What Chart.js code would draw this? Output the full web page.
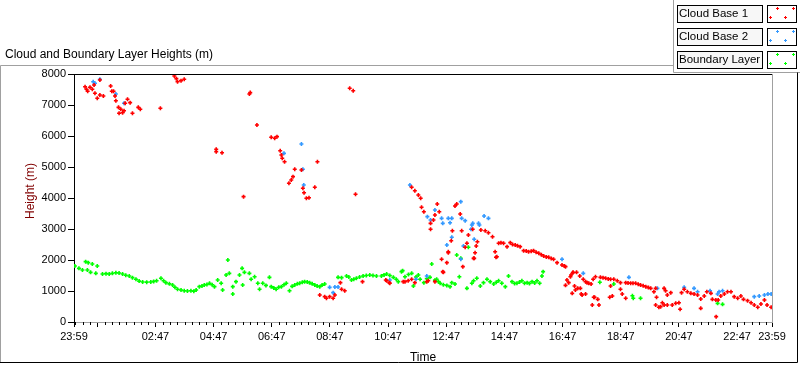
<!DOCTYPE html>
<html>
<head>
<meta charset="utf-8">
<title>Cloud and Boundary Layer Heights</title>
<script src="https://cdn.jsdelivr.net/npm/chart.js@4.4.1/dist/chart.umd.min.js"></script>
<style>
  html, body { margin: 0; padding: 0; background: #fff; }
  #wrap { position: relative; width: 800px; height: 365px; }
</style>
</head>
<body>
<div id="wrap"><canvas id="heights" width="800" height="365"></canvas></div>
<script>
// time axis: hours since 23:59 of the previous day
const tickHours = [0, 0.8, 2.8, 4.8, 6.8, 8.8, 10.8, 12.8, 14.8, 16.8, 18.8, 20.8, 22.8, 24];
const tickLabels = ['23:59', '', '02:47', '04:47', '06:47', '08:47', '10:47', '12:47', '14:47', '16:47', '18:47', '20:47', '22:47', '23:59'];
const heightTicks = [0, 1000, 2000, 3000, 4000, 5000, 6000, 7000, 8000];

const seriesNames = ['Cloud Base 1', 'Cloud Base 2', 'Boundary Layer'];
const seriesColors = ['#ff0000', '#3399ff', '#00ff00'];

const cb1Hours = [0.38, 0.43, 0.47, 0.55, 0.63, 0.69, 0.72, 0.80, 0.89, 0.89, 1.01, 1.26, 1.30, 1.36, 1.41, 1.44, 1.53, 1.55, 1.61, 1.67,
  1.72, 1.76, 1.84, 1.93, 2.01, 2.21, 2.28, 2.97, 3.45, 3.52, 3.56, 3.68, 3.79, 4.89, 4.89, 5.09, 5.83, 6.03, 6.06, 6.29,
  6.78, 6.90, 6.98, 7.09, 7.13, 7.16, 7.24, 7.39, 7.47, 7.53, 7.59, 7.82, 7.87, 7.91, 7.99, 8.08, 8.28, 8.37, 8.45, 8.62,
  8.68, 8.79, 8.91, 8.97, 9.16, 9.20, 9.31, 9.48, 9.60, 9.68, 9.92, 10.72, 10.75, 10.84, 10.86, 11.32, 11.38, 11.49, 11.61, 11.61,
  11.72, 11.72, 11.84, 11.92, 11.95, 12.03, 12.13, 12.18, 12.26, 12.26, 12.36, 12.41, 12.41, 12.49, 12.56, 12.64, 12.68, 12.70, 12.82, 12.87,
  12.87, 12.97, 13.01, 13.10, 13.16, 13.28, 13.33, 13.37, 13.45, 13.51, 13.56, 13.71, 13.74, 13.76, 13.79, 13.83, 13.87, 13.99, 14.14, 14.25,
  14.39, 14.48, 14.51, 14.54, 14.60, 14.68, 14.77, 14.89, 15.00, 15.08, 15.17, 15.25, 15.34, 15.46, 15.55, 15.63, 15.72, 15.80, 15.89, 15.98,
  16.07, 16.15, 16.24, 16.32, 16.41, 16.49, 16.61, 16.78, 16.86, 16.90, 16.90, 16.95, 17.01, 17.07, 17.09, 17.13, 17.15, 17.16, 17.21, 17.24,
  17.28, 17.32, 17.39, 17.41, 17.44, 17.47, 17.51, 17.59, 17.59, 17.64, 17.70, 17.78, 17.82, 17.85, 17.87, 17.90, 17.93, 18.01, 18.05, 18.10,
  18.19, 18.28, 18.37, 18.45, 18.45, 18.42, 18.51, 18.56, 18.68, 18.79, 18.79, 18.85, 18.97, 18.97, 19.05, 19.14, 19.22, 19.31, 19.40, 19.48,
  19.57, 19.66, 19.75, 19.83, 19.94, 20.00, 20.00, 20.03, 20.11, 20.17, 20.23, 20.29, 20.29, 20.34, 20.40, 20.40, 20.52, 20.57, 20.69, 20.80,
  20.84, 20.89, 20.98, 21.09, 21.21, 21.32, 21.44, 21.55, 21.55, 21.67, 21.76, 21.90, 21.95, 22.07, 22.08, 22.15, 22.24, 22.36, 22.47, 22.59,
  22.70, 22.82, 22.93, 23.02, 23.16, 23.28, 23.39, 23.51, 23.62, 23.74, 23.83, 23.97];
const cb1Heights = [7591, 7506, 7442, 7571, 7506, 7645, 7377, 7216, 7323, 7806, 7290, 7613, 7442, 7442, 7290, 7139, 6925, 6732, 6861, 6752,
  6816, 7055, 7184, 7076, 6732, 6925, 6861, 6894, 7935, 7850, 7752, 7785, 7829, 5570, 5494, 5462, 4043, 7355, 7400, 6355,
  5958, 5926, 5979, 5526, 5387, 5280, 5171, 4474, 4581, 4688, 4926, 4903, 4313, 4171, 3990, 4010, 4345, 5171, 871, 817,
  764, 817, 764, 871, 1269, 1055, 1010, 7539, 7462, 4119, 1301, 1355, 1333, 1269, 1248, 1301, 1301, 1333, 4345, 1377,
  4236, 1269, 4097, 3990, 3700, 3558, 1301, 1333, 3183, 2990, 3290, 3452, 1301, 3806, 3558, 2023, 1624, 1602, 1914, 2268,
  2235, 2623, 2945, 3742, 3806, 3484, 2945, 1785, 2410, 2539, 2806, 2990, 2054, 2054, 2235, 2452, 2590, 2968, 2945, 2881,
  2752, 2268, 2087, 2107, 2539, 2560, 2539, 2430, 2559, 2500, 2484, 2460, 2430, 2301, 2290, 2268, 2280, 2301, 2250, 2216,
  2170, 2129, 2100, 2087, 2050, 2023, 1914, 1839, 1806, 1785, 1183, 1355, 1269, 1462, 1516, 925, 1591, 1602, 1161, 1032,
  1602, 1086, 1484, 1086, 903, 871, 1377, 1301, 903, 1269, 1248, 1226, 548, 1377, 796, 796, 1462, 731, 548, 1441,
  1430, 1409, 1390, 1377, 1161, 796, 839, 1377, 1333, 1269, 1055, 903, 1269, 764, 1260, 1248, 1250, 1248, 1220, 1194,
  1170, 1140, 1110, 1086, 978, 1086, 548, 796, 474, 495, 623, 1086, 548, 1010, 871, 548, 946, 548, 603, 623,
  409, 946, 1055, 978, 925, 903, 871, 742, 441, 839, 978, 925, 731, 710, 172, 710, 839, 903, 978, 978,
  817, 764, 839, 731, 688, 623, 548, 474, 581, 710, 548, 474];

const cb2Hours = [0.66, 0.72, 0.89, 1.44, 1.72, 7.22, 7.82, 7.87, 7.90, 8.79, 8.91, 8.97, 9.08, 10.86, 11.55, 11.76, 12.13, 12.15, 12.26, 12.41,
  12.64, 12.68, 12.82, 12.87, 12.93, 12.99, 12.99, 13.30, 13.30, 13.33, 13.39, 13.45, 13.65, 13.68, 13.71, 13.76, 13.91, 13.94, 14.10, 14.25,
  16.78, 17.51, 19.08, 20.06, 20.98, 21.32, 21.44, 21.87, 22.13, 22.18, 22.30, 23.39, 23.56, 23.74, 23.86, 23.97];
const cb2Heights = [7752, 7700, 7829, 7355, 7055, 5441, 5742, 4926, 4419, 1118, 946, 1129, 1129, 1355, 4419, 1377, 1484, 3398, 3290, 3613,
  3344, 3183, 2484, 3344, 3204, 3344, 2732, 3882, 2023, 3344, 2452, 3269, 2990, 3129, 3183, 2667, 3183, 3129, 3419, 3344,
  2023, 1570, 1441, 1086, 1118, 1086, 978, 1010, 903, 978, 1010, 817, 839, 871, 903, 903];

const blHours = [0.03, 0.17, 0.29, 0.40, 0.46, 0.49, 0.57, 0.63, 0.75, 0.80, 0.98, 1.10, 1.21, 1.32, 1.44, 1.55, 1.67, 1.78, 1.90, 2.01,
  2.13, 2.24, 2.36, 2.50, 2.64, 2.74, 2.84, 2.99, 3.08, 3.16, 3.28, 3.39, 3.47, 3.56, 3.68, 3.79, 3.90, 4.02, 4.12, 4.20,
  4.31, 4.40, 4.48, 4.57, 4.66, 4.75, 4.83, 4.94, 5.06, 5.11, 5.23, 5.29, 5.34, 5.46, 5.46, 5.57, 5.69, 5.78, 5.80, 5.86,
  6.03, 6.09, 6.21, 6.32, 6.38, 6.49, 6.60, 6.72, 6.78, 6.87, 6.95, 7.04, 7.13, 7.22, 7.30, 7.41, 7.50, 7.59, 7.68, 7.76,
  7.85, 7.93, 8.02, 8.10, 8.19, 8.28, 8.36, 8.45, 8.53, 8.62, 9.08, 9.20, 9.37, 9.45, 9.54, 9.62, 9.71, 9.82, 9.94, 10.05,
  10.17, 10.28, 10.40, 10.57, 10.66, 10.75, 10.86, 10.98, 11.08, 11.15, 11.26, 11.30, 11.38, 11.50, 11.61, 11.67, 11.76, 11.84, 11.90, 12.03,
  12.13, 12.24, 12.30, 12.41, 12.47, 12.53, 12.59, 12.70, 12.82, 12.93, 12.99, 13.10, 13.16, 13.25, 13.30, 13.51, 13.56, 13.68, 13.74, 13.85,
  13.97, 14.08, 14.20, 14.31, 14.43, 14.52, 14.60, 14.71, 14.83, 14.94, 15.06, 15.15, 15.23, 15.32, 15.40, 15.49, 15.58, 15.66, 15.75, 15.84,
  15.92, 16.01, 16.09, 16.13, 18.08, 18.56, 19.20, 19.23, 19.48, 22.13, 22.30];
const blHeights = [1806, 1730, 1677, 1946, 1677, 1914, 1602, 1871, 1570, 1806, 1548, 1560, 1548, 1570, 1591, 1580, 1548, 1510, 1484, 1430,
  1377, 1320, 1290, 1285, 1290, 1310, 1333, 1409, 1330, 1269, 1230, 1194, 1120, 1055, 1030, 1010, 1000, 1010, 990, 1032,
  1140, 1160, 1194, 1210, 1248, 1200, 1140, 1355, 1248, 1032, 1516, 2000, 1570, 1140, 903, 1301, 1516, 1731, 1194, 1602,
  1570, 1377, 1462, 1248, 1055, 1248, 1180, 1441, 1140, 1100, 1055, 1120, 1140, 1200, 1248, 1010, 1150, 1194, 1230, 1248,
  1280, 1301, 1290, 1269, 1230, 1194, 1160, 1140, 1190, 1226, 1441, 1430, 1484, 1450, 1355, 1380, 1409, 1450, 1484, 1500,
  1516, 1500, 1484, 1484, 1520, 1548, 1500, 1441, 1380, 1301, 1624, 1656, 1462, 1530, 1570, 1161, 1450, 1516, 1377, 1269,
  1400, 1441, 1871, 1350, 1377, 1301, 1248, 1200, 1180, 1140, 1269, 1226, 2161, 1462, 2054, 1086, 2409, 1248, 1333, 1409,
  1161, 1269, 1377, 1301, 1226, 1280, 1333, 1248, 1140, 1484, 1301, 1240, 1248, 1290, 1333, 1250, 1269, 1240, 1301, 1260,
  1333, 1248, 1484, 1624, 1280, 1226, 849, 764, 764, 602, 570];

const FONT = "'Liberation Sans', Arial, sans-serif";
Chart.defaults.font.family = FONT;

const toPoints = (hours, heights) => hours.map((h, i) => ({ x: h, y: heights[i] }));

function pointSet(idx, hours, heights) {
  return {
    label: seriesNames[idx],
    data: toPoints(hours, heights),
    showLine: false,
    pointStyle: 'cross',
    pointRadius: 2,
    pointBorderWidth: 1.6,
    borderColor: seriesColors[idx],
    backgroundColor: seriesColors[idx]
  };
}

// LabVIEW style frame, title, legend and minor ticks
const decorations = {
  id: 'decorations',
  afterDraw(chart) {
    const { ctx, chartArea: a } = chart;
    const xs = chart.scales.x;
    ctx.save();

    // minor time ticks every 15 min
    ctx.strokeStyle = '#000';
    ctx.lineWidth = 1;
    ctx.beginPath();
    for (let k = 0; k < 96; k++) {
      const v = 0.05 + k * 0.25;
      if (tickHours.some(t => Math.abs(t - v) < 0.01)) continue;
      const px = Math.round(xs.getPixelForValue(v)) + 0.5;
      ctx.moveTo(px, a.bottom);
      ctx.lineTo(px, a.bottom + 3);
    }
    ctx.stroke();

    // plot frame: dark top, grey right
    ctx.beginPath();
    ctx.strokeStyle = '#000';
    ctx.moveTo(a.left, a.top + 0.5);
    ctx.lineTo(a.right, a.top + 0.5);
    ctx.stroke();
    ctx.beginPath();
    ctx.strokeStyle = '#a0a0a0';
    ctx.moveTo(a.right + 0.5, a.top);
    ctx.lineTo(a.right + 0.5, a.bottom);
    ctx.stroke();

    // outer panel
    ctx.strokeStyle = '#a0a0a0';
    ctx.beginPath();
    ctx.moveTo(0.5, 363);
    ctx.lineTo(0.5, 65.5);
    ctx.lineTo(673.5, 65.5);
    ctx.moveTo(673.5, 0);
    ctx.lineTo(673.5, 72.5);
    ctx.lineTo(800, 72.5);
    ctx.stroke();
    ctx.strokeStyle = '#000';
    ctx.beginPath();
    ctx.moveTo(0, 362.5);
    ctx.lineTo(797.5, 362.5);
    ctx.lineTo(797.5, 72.5);
    ctx.stroke();

    // graph title
    ctx.fillStyle = '#000';
    ctx.font = '12px ' + FONT;
    ctx.textBaseline = 'middle';
    ctx.textAlign = 'left';
    ctx.fillText('Cloud and Boundary Layer Heights (m)', 5, 55);

    // y axis title
    ctx.save();
    ctx.translate(31, 191);
    ctx.rotate(-Math.PI / 2);
    ctx.textAlign = 'center';
    ctx.fillStyle = '#800000';
    ctx.fillText('Height (m)', 0, 0);
    ctx.restore();

    // legend
    const marks = [[10, 3], [26, 3], [3, 12], [18, 12]];
    ctx.font = '11.5px ' + FONT;
    chart.data.datasets.forEach((ds, i) => {
      const top = 5 + i * 23;
      ctx.fillStyle = '#f7f7f7';
      ctx.fillRect(677, top, 85, 17);
      ctx.strokeStyle = '#000';
      ctx.strokeRect(677.5, top + 0.5, 85, 17);
      ctx.fillStyle = '#000';
      ctx.textAlign = 'left';
      ctx.fillText(ds.label, 679, top + 9);
      ctx.fillStyle = '#fff';
      ctx.fillRect(767, top, 29, 17);
      ctx.strokeRect(767.5, top + 0.5, 29, 17);
      ctx.strokeStyle = ds.borderColor;
      ctx.beginPath();
      marks.forEach(([mx, my]) => {
        const cx = 767 + mx + 0.5, cy = top + my + 0.5;
        ctx.moveTo(cx - 1.5, cy); ctx.lineTo(cx + 1.5, cy);
        ctx.moveTo(cx, cy - 1.5); ctx.lineTo(cx, cy + 1.5);
      });
      ctx.stroke();
    });
    ctx.restore();
  }
};

new Chart(document.getElementById('heights'), {
  type: 'scatter',
  data: {
    datasets: [
      pointSet(0, cb1Hours, cb1Heights),
      pointSet(1, cb2Hours, cb2Heights),
      pointSet(2, blHours, blHeights)
    ]
  },
  options: {
    responsive: false,
    animation: false,
    layout: { padding: { top: 74, right: 28, left: 0, bottom: 0 } },
    plugins: { legend: { display: false }, tooltip: { enabled: false } },
    scales: {
      x: {
        type: 'linear',
        min: 0,
        max: 24,
        afterFit: s => { s.height = 43; },
        afterBuildTicks: s => { s.ticks = tickHours.map(v => ({ value: v })); },
        ticks: {
          autoSkip: false,
          maxRotation: 0,
          padding: 3,
          color: '#000',
          font: { size: 11 },
          callback: (v, i) => tickLabels[i]
        },
        grid: { drawOnChartArea: false, tickLength: 5, tickColor: '#000' },
        border: { color: '#a0a0a0' },
        title: { display: true, text: 'Time', color: '#000', font: { size: 12 }, padding: { top: 3, bottom: 0 } }
      },
      y: {
        min: 0,
        max: 8000,
        afterFit: s => { s.width = 74; },
        afterBuildTicks: s => { s.ticks = heightTicks.map(v => ({ value: v })); },
        ticks: { padding: 2, color: '#000', font: { size: 11 }, callback: v => String(v) },
        grid: { drawOnChartArea: false, tickLength: 6, tickColor: '#000' },
        border: { color: '#000' }
      }
    }
  },
  plugins: [decorations]
});
</script>
</body>
</html>
